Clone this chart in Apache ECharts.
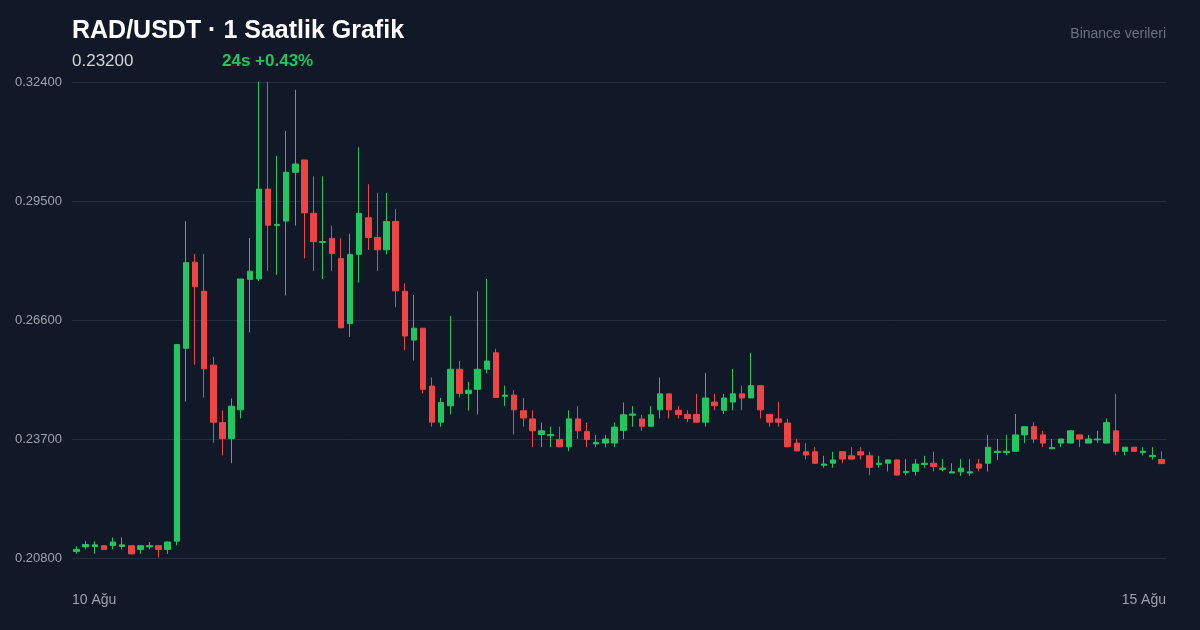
<!DOCTYPE html>
<html>
<head>
<meta charset="utf-8">
<script src="https://cdn.jsdelivr.net/npm/echarts@6/dist/echarts.min.js"></script>
<style>
html,body{margin:0;padding:0;background:#111827;}
#c{width:1200px;height:630px;}
</style>
</head>
<body>
<div id="c"></div>
<script>
const title = 'RAD/USDT · 1 Saatlik Grafik';
const lastPrice = '0.23200';
const change24 = '24s +0.43%';
const source = 'Binance verileri';
const dateLabels = ['10 Ağu', '15 Ağu'];
const yTicks = [0.208, 0.237, 0.266, 0.295, 0.324];

const opens = [
0.2096,0.2107,0.2108,0.2110,0.2110,0.2108,0.2110,0.2101,0.2107,0.2110,
0.2101,0.2121,0.2591,0.2801,0.2730,0.2550,0.2410,0.2371,0.2441,0.2759,
0.2760,0.2979,0.2890,0.2901,0.3020,0.3050,0.2920,0.2849,0.2859,0.2810,
0.2651,0.2820,0.2909,0.2861,0.2831,0.2900,0.2730,0.2611,0.2640,0.2499,
0.2411,0.2451,0.2540,0.2481,0.2491,0.2540,0.2580,0.2474,0.2477,0.2439,
0.2419,0.2381,0.2378,0.2369,0.2351,0.2419,0.2388,0.2358,0.2360,0.2360,
0.2391,0.2428,0.2419,0.2401,0.2441,0.2480,0.2440,0.2430,0.2430,0.2411,
0.2460,0.2440,0.2460,0.2480,0.2470,0.2500,0.2430,0.2419,0.2409,0.2360,
0.2339,0.2339,0.2306,0.2311,0.2339,0.2329,0.2339,0.2329,0.2308,0.2311,
0.2319,0.2288,0.2291,0.2308,0.2311,0.2296,0.2287,0.2290,0.2287,0.2309,
0.2311,0.2337,0.2337,0.2340,0.2380,0.2400,0.2380,0.2346,0.2360,0.2360,
0.2380,0.2360,0.2368,0.2360,0.2390,0.2340,0.2350,0.2337,0.2327,0.2320];
const closes = [
0.2101,0.2113,0.2112,0.2101,0.2119,0.2112,0.2090,0.2110,0.2110,0.2101,
0.2119,0.2600,0.2800,0.2741,0.2541,0.2411,0.2371,0.2450,0.2760,0.2779,
0.2979,0.2891,0.2893,0.3020,0.3040,0.2921,0.2851,0.2851,0.2822,0.2641,
0.2820,0.2920,0.2861,0.2831,0.2900,0.2731,0.2621,0.2640,0.2491,0.2411,
0.2459,0.2540,0.2481,0.2489,0.2540,0.2560,0.2471,0.2477,0.2441,0.2421,
0.2390,0.2390,0.2381,0.2351,0.2419,0.2390,0.2369,0.2362,0.2370,0.2399,
0.2429,0.2431,0.2401,0.2429,0.2480,0.2441,0.2430,0.2420,0.2411,0.2470,
0.2451,0.2470,0.2480,0.2470,0.2500,0.2441,0.2411,0.2411,0.2351,0.2341,
0.2331,0.2311,0.2309,0.2319,0.2321,0.2321,0.2331,0.2301,0.2311,0.2319,
0.2282,0.2291,0.2309,0.2311,0.2303,0.2299,0.2290,0.2299,0.2290,0.2299,
0.2350,0.2340,0.2340,0.2380,0.2400,0.2370,0.2360,0.2349,0.2370,0.2390,
0.2370,0.2370,0.2370,0.2410,0.2340,0.2350,0.2340,0.2340,0.2330,0.2310];
const lows = [
0.2090,0.2101,0.2090,0.2100,0.2101,0.2101,0.2089,0.2090,0.2101,0.2081,
0.2090,0.2111,0.2461,0.2551,0.2471,0.2361,0.2330,0.2311,0.2420,0.2630,
0.2755,0.2780,0.2770,0.2720,0.2890,0.2810,0.2780,0.2760,0.2780,0.2640,
0.2619,0.2751,0.2831,0.2780,0.2820,0.2691,0.2587,0.2561,0.2481,0.2400,
0.2400,0.2430,0.2471,0.2439,0.2430,0.2530,0.2471,0.2450,0.2381,0.2400,
0.2350,0.2350,0.2350,0.2350,0.2340,0.2370,0.2350,0.2350,0.2350,0.2350,
0.2370,0.2400,0.2390,0.2399,0.2420,0.2420,0.2420,0.2411,0.2410,0.2400,
0.2440,0.2431,0.2440,0.2440,0.2470,0.2420,0.2400,0.2400,0.2350,0.2340,
0.2320,0.2310,0.2300,0.2300,0.2311,0.2320,0.2320,0.2282,0.2300,0.2291,
0.2281,0.2281,0.2281,0.2300,0.2291,0.2291,0.2287,0.2280,0.2280,0.2291,
0.2291,0.2319,0.2330,0.2340,0.2360,0.2360,0.2350,0.2346,0.2350,0.2360,
0.2350,0.2360,0.2360,0.2359,0.2330,0.2330,0.2340,0.2330,0.2320,0.2310];
const highs = [
0.2109,0.2121,0.2121,0.2111,0.2130,0.2130,0.2111,0.2111,0.2119,0.2111,
0.2120,0.2600,0.2901,0.2821,0.2821,0.2570,0.2440,0.2469,0.2760,0.2860,
0.3241,0.3240,0.3060,0.3121,0.3221,0.3050,0.3010,0.3010,0.2890,0.2859,
0.2870,0.3081,0.2991,0.2970,0.2970,0.2930,0.2749,0.2721,0.2640,0.2520,
0.2470,0.2670,0.2560,0.2509,0.2730,0.2760,0.2590,0.2500,0.2489,0.2470,
0.2440,0.2410,0.2400,0.2400,0.2440,0.2450,0.2410,0.2380,0.2380,0.2410,
0.2459,0.2450,0.2429,0.2450,0.2520,0.2481,0.2450,0.2440,0.2480,0.2531,
0.2480,0.2480,0.2541,0.2500,0.2580,0.2500,0.2430,0.2460,0.2419,0.2370,
0.2360,0.2350,0.2329,0.2339,0.2340,0.2350,0.2350,0.2339,0.2329,0.2320,
0.2320,0.2321,0.2321,0.2329,0.2339,0.2321,0.2311,0.2321,0.2321,0.2321,
0.2380,0.2370,0.2380,0.2431,0.2400,0.2411,0.2390,0.2370,0.2370,0.2390,
0.2381,0.2380,0.2390,0.2420,0.2480,0.2350,0.2350,0.2350,0.2350,0.2340];

const categories = opens.map((_, i) => String(i));
const candleData = opens.map((o, i) => [o, closes[i], lows[i], highs[i]]);

const UP = '#22c55e', DOWN = '#ef4444';
const FONT = '"Liberation Sans", Arial, Helvetica, sans-serif';

const chart = echarts.init(document.getElementById('c'), null, {renderer: 'canvas'});
chart.setOption({
  backgroundColor: '#111827',
  animation: false,
  textStyle: {fontFamily: FONT},
  grid: {left: 72, right: 34, top: 82, bottom: 72},
  graphic: [
    {type: 'text', left: 72, top: 19, style: {text: title, fill: '#ffffff', font: 'bold 25px ' + FONT}},
    {type: 'text', left: 72, top: 53, style: {text: lastPrice, fill: '#d1d5db', font: '17px ' + FONT}},
    {type: 'text', left: 222, top: 53, style: {text: change24, fill: UP, font: 'bold 17px ' + FONT}},
    {type: 'text', right: 34, top: 27, style: {text: source, fill: '#6b7280', font: '14px ' + FONT}}
  ],
  xAxis: [
    {
      type: 'category', data: categories, boundaryGap: true,
      axisLine: {show: false}, axisTick: {show: false}, axisLabel: {show: false}, splitLine: {show: false}
    },
    {
      type: 'value', min: 0, max: dateLabels.length - 1, interval: 1, position: 'bottom',
      axisLine: {show: false}, axisTick: {show: false}, splitLine: {show: false},
      axisLabel: {
        color: '#9ca3af', fontSize: 14, margin: 35, fontFamily: FONT,
        alignMinLabel: 'left', alignMaxLabel: 'right',
        formatter: v => dateLabels[Math.round(v)] || ''
      }
    }
  ],
  yAxis: {
    type: 'value', min: yTicks[0], max: yTicks[yTicks.length - 1], interval: 0.029,
    axisLine: {show: false}, axisTick: {show: false},
    splitLine: {lineStyle: {color: '#243041', width: 1}},
    axisLabel: {color: '#9ca3af', fontSize: 13, margin: 10, fontFamily: FONT, formatter: v => v.toFixed(5)}
  },
  series: [{
    type: 'candlestick', xAxisIndex: 0, data: candleData, barWidth: 6,
    itemStyle: {color: UP, color0: DOWN, borderColor: UP, borderColor0: DOWN, borderWidth: 1}
  }]
});
</script>
</body>
</html>
